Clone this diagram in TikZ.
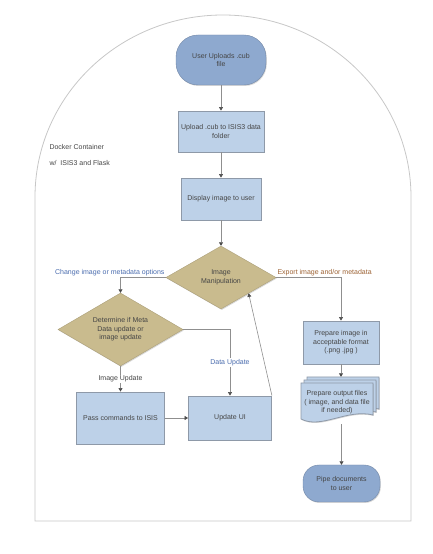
\documentclass[tikz,border=0pt]{standalone}
\usepackage{fontspec}
\setmainfont{Liberation Sans}
\usepackage{xcolor}
\usetikzlibrary{arrows.meta,shapes.geometric,shadows,positioning,calc,backgrounds}

\definecolor{termblauw}{HTML}{8EA9CF}
\definecolor{procblauw}{HTML}{BDD1E8}
\definecolor{beslistan}{HTML}{C9BB8E}
\definecolor{randgrijs}{HTML}{8E99A8}
\definecolor{lijngrijs}{HTML}{8F8F8F}
\definecolor{tekstgrijs}{HTML}{454545}
\definecolor{labelblauw}{HTML}{4A6CAE}
\definecolor{labeloranje}{HTML}{9C6234}

\begin{document}
\begin{tikzpicture}[x=1pt, y=1pt, node distance=70pt, font=\fontsize{7}{8.5}\selectfont, text=tekstgrijs]
        % Stijlen voor de blokken en lijnen
        \tikzstyle{schaduw} = [drop shadow={shadow xshift=0.8pt, shadow yshift=-1pt, opacity=0.3}]
        \tikzstyle{startstop} = [rectangle, rounded corners=16pt, minimum width=77pt, minimum height=37pt, inner sep=1pt, align=center, draw=termblauw!80!black, line width=0.4pt, fill=termblauw, schaduw]
        \tikzstyle{process} = [rectangle, minimum width=80pt, minimum height=42pt, inner sep=1pt, align=center, draw=randgrijs, line width=0.8pt, fill=procblauw, schaduw]
        \tikzstyle{decision} = [diamond, aspect=1.75, inner sep=0pt, align=center, draw=beslistan!85!black, line width=0.4pt, fill=beslistan, schaduw]
        \tikzstyle{docvel} = [draw=randgrijs, line width=0.8pt, fill=procblauw, schaduw]
        \tikzstyle{boog} = [draw=black!22, line width=0.8pt]
        \tikzstyle{lbl} = [inner sep=1pt]
        \tikzstyle{arrow} = [line width=0.6pt, draw=lijngrijs, -{Triangle[width=4pt, length=3.5pt, color=black!70]}]

        \useasboundingbox (0,0) rectangle (433,554);

        % Container rond alles
        \draw[boog] (35,33) -- (35,357) arc[start angle=180, end angle=0, x radius=188, y radius=182] -- (411,33) -- cycle;
        \node (dock) [anchor=west] at (46,407) {Docker Container};
        \node (dockw) [anchor=west] at (46,391) {w/\ \ ISIS3 and Flask};

        % Hoofdkolom
        \node (start) [startstop, minimum width=90pt, minimum height=50pt, rounded corners=22pt] at (221,494) {User Uploads .cub\\file};
        \node (upload) [process, minimum width=86pt, minimum height=41pt, below of=start, yshift=-1.5pt] {Upload .cub to ISIS3 data\\folder};
        \node (display) [process, below of=upload, yshift=2.5pt] {Display image to user};
        \node (manip) [decision, minimum width=110pt, minimum height=63pt, below of=display, yshift=-8.5pt] {Image\\Manipulation};

        % Linkertak
        \node (decide) [decision, minimum width=125pt, minimum height=73pt] at (120.5,224.5) {Determine if Meta\\Data update or\\image update};
        \node (pass) [process, minimum width=88pt, minimum height=52pt, below of=decide, yshift=-18.5pt] {Pass commands to ISIS};
        \node (updui) [process, minimum width=83pt, minimum height=44pt, right of=pass, xshift=39.5pt] {Update UI};

        % Rechtertak
        \node (prep) [process, minimum width=76pt, minimum height=43pt] at (341,211.5) {Prepare image in\\acceptable format\\(.png .jpg )};
        \node (outfiles) [minimum width=72pt, minimum height=39pt, inner sep=1pt, align=center, below of=prep, yshift=10pt, xshift=-4pt] {Prepare output files\\( image, and data file\\if needed)};
        \node (pipe) [startstop, below of=outfiles, yshift=-11pt, xshift=4.5pt] {Pipe documents\\to user};

        % Gestapelde documenten achter de tekst
        \begin{pgfonlayer}{background}
        \begin{scope}[shift={(outfiles.center)}]
            \foreach \d in {6,3,0} {
                \draw[docvel] (-36+\d,19.5+\d) -- (36+\d,19.5+\d) -- (36+\d,-12.5+\d)
                    .. controls (10+\d,-6+\d) and (-16+\d,-27+\d) .. (-36+\d,-16.5+\d) -- cycle;
            }
        \end{scope}
        \end{pgfonlayer}
        \coordinate (outtop) at ($(outfiles.north)+(0,6)$);
        \coordinate (outbot) at ($(outfiles.south)+(0,-2)$);

        % Pijlen
        \draw [arrow] (start) -- (upload);
        \draw [arrow] (upload) -- (display);
        \draw [arrow] (display) -- (manip);
        \draw [arrow] (manip.west) -| node[pos=0, anchor=south east, lbl, text=labelblauw] {Change image or metadata options} (decide.north);
        \draw [arrow] (manip.east) -| node[pos=0, anchor=south west, lbl, text=labeloranje] {Export image and/or metadata} (prep.north);
        \draw [arrow] (decide) -- node[lbl, fill=white] {Image Update} (pass);
        \draw [arrow] (decide.east) -| node[pos=0.75, lbl, fill=white, text=labelblauw] {Data Update} (updui.north);
        \draw [arrow] (pass) -- (updui);
        \draw [arrow] (updui.north east) -- (manip.south east);
        \draw [arrow] (prep) -- (prep |- outtop);
        \draw [arrow] (outbot -| pipe) -- (pipe);

    \end{tikzpicture}
\end{document}
